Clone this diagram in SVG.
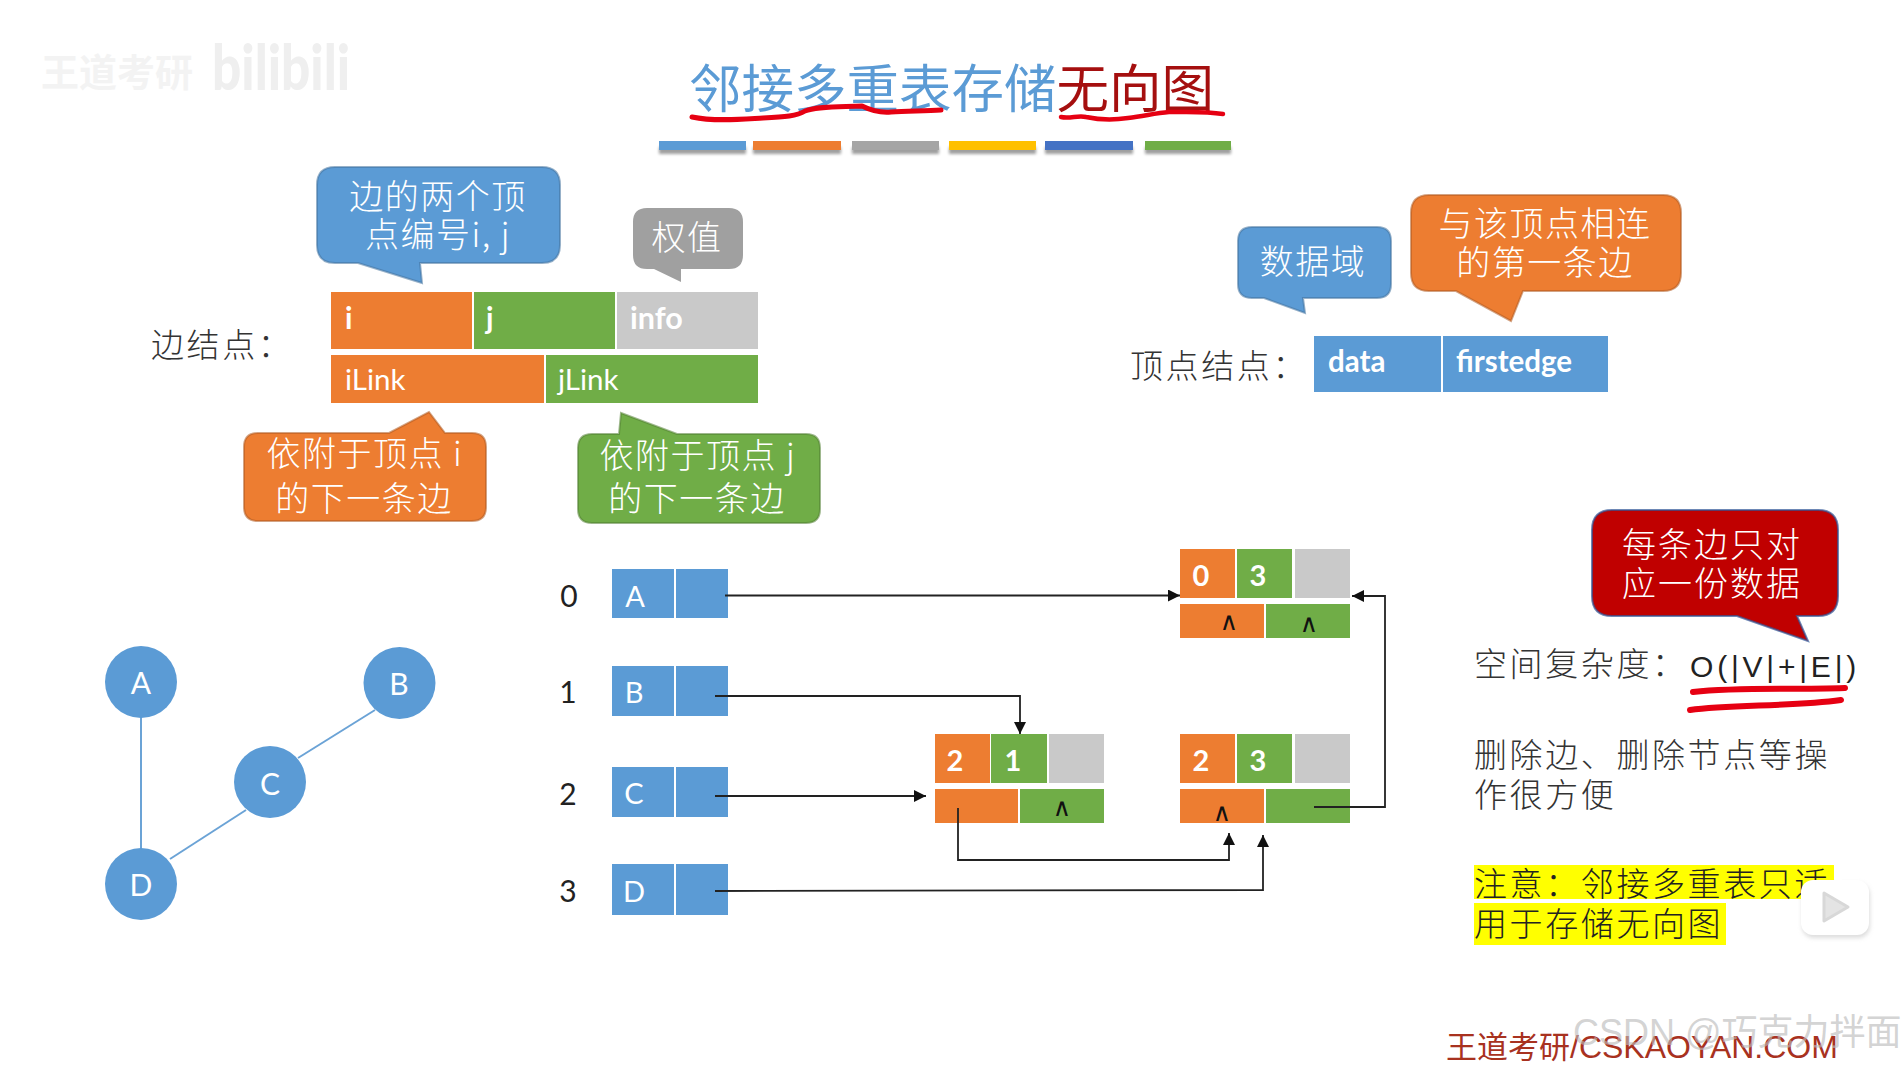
<svg xmlns="http://www.w3.org/2000/svg" width="1903" height="1065" viewBox="0 0 1903 1065">
<style>
text{font-family:"Noto Sans CJK SC","Noto Sans",sans-serif;font-weight:300}
.cw{fill:#fff;font-size:34px;text-anchor:middle;letter-spacing:1.500px}
.lb{fill:#333;font-size:33px;letter-spacing:2.6px}
.en{font-family:Lato,"Open Sans",sans-serif;fill:#fff;font-size:29.500px}
.b{font-weight:700}
.m{font-family:Lato,"Open Sans",sans-serif;font-weight:400;text-anchor:middle}
.big{fill:#fff;font-size:29px;font-weight:700}
.car{fill:#111;font-size:25px;font-family:"DejaVu Sans",sans-serif}
.idx{fill:#222;font-size:30px}
.blue{fill:#5b9bd5}.or{fill:#ed7d31}.gr{fill:#70ad47}.gy{fill:#c9c9c9}
.co{stroke-width:2;stroke-opacity:.55}
.cn{fill:none;stroke:#222;stroke-width:1.8}
.sc{fill:none;stroke:#e60012;stroke-linecap:round;stroke-linejoin:round}
</style>
<defs>
<marker id="ah" viewBox="0 0 10 10" refX="10" refY="5" markerWidth="12" markerHeight="12" markerUnits="userSpaceOnUse" orient="auto"><path d="M0 0L10 5L0 10Z" fill="#111"/></marker>
<filter id="sh" x="-10%" y="-50%" width="120%" height="220%"><feGaussianBlur stdDeviation="1.5"/></filter>
<filter id="soft" x="-20%" y="-20%" width="140%" height="140%"><feGaussianBlur stdDeviation="2"/></filter>
</defs>
<rect width="1903" height="1065" fill="#fff"/>

<g id="watermark-top">
<text x="41" y="86" font-size="38" style="fill:#f3f3f3;font-weight:700">王道考研</text>
<text x="212" y="90" font-size="62" style="fill:#efefef;font-family:Lato,sans-serif;font-weight:900" textLength="138" lengthAdjust="spacingAndGlyphs">bilibili</text>
</g>

<g id="title">
<text x="689" y="108" font-size="52.500" style="fill:#5b9bd5;font-weight:400">邻接多重表存储<tspan fill="#a50f0f">无向图</tspan></text>
<path class="sc" stroke-width="5" d="M692 117C715 122 745 119 763 118C785 117 797 116 805 111C818 106 840 107 862 106C872 111 880 113 891 112C908 111 925 111 941 110"/>
<path class="sc" stroke-width="4.500" d="M1061 117C1070 119 1078 115 1086 117C1100 120 1115 120 1128 118C1145 116 1155 113 1169 112C1187 112 1205 111 1223 114"/>
</g>

<g id="title-bars">
<g fill="#777" opacity=".7" filter="url(#sh)"><rect x="659" y="147" width="87" height="7"/><rect x="753" y="147" width="88" height="7"/><rect x="852" y="147" width="87" height="7"/><rect x="949" y="147" width="87" height="7"/><rect x="1045" y="147" width="88" height="7"/><rect x="1145" y="147" width="86" height="7"/></g>
<rect x="659" y="141" width="87" height="9" fill="#5b9bd5"/><rect x="753" y="141" width="88" height="9" fill="#ed7d31"/><rect x="852" y="141" width="87" height="9" fill="#a5a5a5"/><rect x="949" y="141" width="87" height="9" fill="#ffc000"/><rect x="1045" y="141" width="88" height="9" fill="#4472c4"/><rect x="1145" y="141" width="86" height="9" fill="#70ad47"/>
</g>

<g id="callout-endpoints">
<path class="blue co" stroke="#41719c" d="M335 167H542Q560 167 560 185V245Q560 263 542 263H420L422 283L358 263H335Q317 263 317 245V185Q317 167 335 167Z"/>
<text class="cw" x="438" y="209">边的两个顶</text><text class="cw" x="438" y="247">点编号i, j</text>
</g>
<g id="callout-weight">
<path fill="#a0a0a0" d="M647 208H729Q743 208 743 222V255Q743 269 729 269H681V282L654 269H647Q633 269 633 255V222Q633 208 647 208Z"/>
<text class="cw" x="687" y="250">权值</text>
</g>
<g id="edge-node-format">
<text class="lb" x="151" y="357">边结点：</text>
<rect class="or" x="331" y="292" width="141" height="57"/><rect class="gr" x="474" y="292" width="141" height="57"/><rect class="gy" x="617" y="292" width="141" height="57"/>
<rect class="or" x="331" y="355" width="213" height="48"/><rect class="gr" x="546" y="355" width="212" height="48"/>
<text class="en b" x="345" y="329">i</text><text class="en b" x="486" y="329">j</text><text class="en b" x="630" y="329" style="font-size:30.500px">info</text>
<text class="en" x="345" y="390" style="font-weight:400">iLink</text><text class="en" x="558" y="390" style="font-weight:400">jLink</text>
</g>
<g id="callout-ilink">
<path class="or co" stroke="#ae5a21" d="M258 433H389L429 412L445 433H472Q486 433 486 447V507Q486 521 472 521H258Q244 521 244 507V447Q244 433 258 433Z"/>
<text class="cw" x="365" y="466">依附于顶点 i</text><text class="cw" x="364" y="511">的下一条边</text>
</g>
<g id="callout-jlink">
<path class="gr co" stroke="#507e32" d="M592 434H619L621 413L677 434H806Q820 434 820 448V509Q820 523 806 523H592Q578 523 578 509V448Q578 434 592 434Z"/>
<text class="cw" x="698" y="468">依附于顶点 j</text><text class="cw" x="697" y="511">的下一条边</text>
</g>

<g id="callout-data">
<path class="blue co" stroke="#41719c" d="M1252 227H1377Q1391 227 1391 241V284Q1391 298 1377 298H1303L1305 313L1264 298H1252Q1238 298 1238 284V241Q1238 227 1252 227Z"/>
<text class="cw" x="1313" y="274">数据域</text>
</g>
<g id="callout-firstedge">
<path class="or co" stroke="#ae5a21" d="M1429 195H1663Q1681 195 1681 213V273Q1681 291 1663 291H1523L1511 321L1456 291H1429Q1411 291 1411 273V213Q1411 195 1429 195Z"/>
<text class="cw" x="1545" y="236">与该顶点相连</text><text class="cw" x="1545" y="275">的第一条边</text>
</g>
<g id="vertex-node-format">
<text class="lb" x="1130" y="378">顶点结点：</text>
<rect class="blue" x="1314" y="336" width="127" height="56"/><rect class="blue" x="1443" y="336" width="165" height="56"/>
<text class="en b" x="1328" y="372">data</text><text class="en b" x="1456" y="372">firstedge</text>
</g>

<g id="lower" transform="translate(0,1)">
<g id="graph-edges" stroke="#6ba3d6" stroke-width="2">
<line x1="141" y1="681" x2="141" y2="883"/><line x1="375" y1="709" x2="298" y2="757"/><line x1="246" y1="809" x2="170" y2="858"/>
</g>
<g id="graph-A"><circle class="blue" cx="141" cy="681" r="36"/><text class="m" x="141" y="693" font-size="30" fill="#fff">A</text></g>
<g id="graph-B"><circle class="blue" cx="399.500" cy="682" r="36"/><text class="m" x="399" y="694" font-size="30" fill="#fff">B</text></g>
<g id="graph-C"><circle class="blue" cx="270" cy="781" r="36"/><text class="m" x="270" y="794" font-size="30" fill="#fff">C</text></g>
<g id="graph-D"><circle class="blue" cx="141" cy="883" r="36"/><text class="m" x="141" y="895" font-size="30" fill="#fff">D</text></g>

<g id="vertex-0"><text class="m idx" x="569" y="606">0</text><rect class="blue" x="612" y="568" width="62" height="49"/><rect class="blue" x="676" y="568" width="52" height="49"/><text class="m" x="635" y="606" font-size="29" fill="#fff">A</text></g>
<g id="vertex-1"><text class="m idx" x="568" y="702">1</text><rect class="blue" x="612" y="665" width="62" height="50"/><rect class="blue" x="676" y="665" width="52" height="50"/><text class="m" x="634" y="702" font-size="29" fill="#fff">B</text></g>
<g id="vertex-2"><text class="m idx" x="568" y="804">2</text><rect class="blue" x="612" y="766" width="62" height="50"/><rect class="blue" x="676" y="766" width="52" height="50"/><text class="m" x="634" y="803" font-size="29" fill="#fff">C</text></g>
<g id="vertex-3"><text class="m idx" x="568" y="901">3</text><rect class="blue" x="612" y="863" width="62" height="51"/><rect class="blue" x="676" y="863" width="52" height="51"/><text class="m" x="634" y="901" font-size="29" fill="#fff">D</text></g>

<g id="edge-0-3">
<rect class="or" x="1180" y="548" width="55" height="49"/><rect class="gr" x="1237" y="548" width="55" height="49"/><rect class="gy" x="1295" y="548" width="55" height="49"/>
<rect class="or" x="1180" y="603" width="84" height="34"/><rect class="gr" x="1266" y="603" width="84" height="34"/>
<text class="m big" x="1201" y="585">0</text><text class="m big" x="1258" y="585">3</text>
<text class="m car" x="1229" y="629">∧</text><text class="m car" x="1309" y="631">∧</text>
</g>
<g id="edge-2-1">
<rect class="or" x="935" y="733" width="55" height="49"/><rect class="gr" x="991" y="733" width="56" height="49"/><rect class="gy" x="1049" y="733" width="55" height="49"/>
<rect class="or" x="935" y="788" width="83" height="34"/><rect class="gr" x="1020" y="788" width="84" height="34"/>
<text class="m big" x="955" y="770">2</text><text class="m big" x="1013" y="770">1</text>
<text class="m car" x="1062" y="815">∧</text>
</g>
<g id="edge-2-3">
<rect class="or" x="1180" y="733" width="55" height="49"/><rect class="gr" x="1237" y="733" width="55" height="49"/><rect class="gy" x="1295" y="733" width="55" height="49"/>
<rect class="or" x="1180" y="788" width="84" height="34"/><rect class="gr" x="1266" y="788" width="84" height="34"/>
<text class="m big" x="1201" y="770">2</text><text class="m big" x="1258" y="770">3</text>
<text class="m car" x="1222" y="820">∧</text>
</g>

<g id="connectors">
<path class="cn" marker-end="url(#ah)" d="M725 594.500H1180"/>
<path class="cn" marker-end="url(#ah)" d="M715 695H1020V733"/>
<path class="cn" marker-end="url(#ah)" d="M715 795H926"/>
<path class="cn" marker-end="url(#ah)" d="M715 890L1263 889V834"/>
<path class="cn" marker-end="url(#ah)" d="M958 807V859H1229V832"/>
<path class="cn" marker-end="url(#ah)" d="M1314 806H1385V595H1352"/>
</g>
</g>

<g id="callout-note">
<path fill="#c00000" stroke="#2f5597" stroke-width="2" stroke-opacity=".7" d="M1612 510H1818Q1838 510 1838 530V596Q1838 616 1818 616H1797L1808 641L1737 616H1612Q1592 616 1592 596V530Q1592 510 1612 510Z"/>
<text class="cw" x="1712" y="557" style="letter-spacing:2px">每条边只对</text><text class="cw" x="1712" y="596" style="letter-spacing:2px">应一份数据</text>
</g>
<g id="notes">
<text class="lb" x="1474" y="676">空间复杂度：</text>
<text x="1690" y="677" font-size="30" style="font-family:'Liberation Sans',sans-serif;font-weight:400;fill:#222;letter-spacing:3.800px">O(|V|+|E|)</text>
<path class="sc" stroke-width="6" d="M1693 692C1740 687 1790 690 1845 688"/>
<path class="sc" stroke-width="6" d="M1690 710C1730 704 1790 707 1841 700"/>
<text class="lb" x="1474" y="767">删除边、删除节点等操</text>
<text class="lb" x="1474" y="807">作很方便</text>
<rect x="1474" y="865" width="360" height="34" fill="#ffff00"/><rect x="1474" y="903" width="252" height="42" fill="#ffff00"/>
<text class="lb" x="1474" y="896" style="fill:#222">注意：邻接多重表只适</text>
<text class="lb" x="1474" y="936" style="fill:#222">用于存储无向图</text>
</g>

<g id="watermark-play">
<rect x="1802" y="883" width="68" height="55" rx="12" fill="#bbb" opacity=".5" filter="url(#soft)"/>
<path d="M1838 880L1846 870" stroke="#fff" stroke-width="6" stroke-linecap="round"/>
<rect x="1801" y="880" width="68" height="55" rx="12" fill="#fff"/>
<path d="M1824 893L1848 907L1824 921Z" fill="#e4e4e4" stroke="#d8d8d8" stroke-width="3" stroke-linejoin="round"/>
</g>
<g id="footer">
<text x="1446" y="1058" font-size="31" style="fill:#a8321f;font-weight:400">王道考研<tspan style="font-family:'Liberation Sans',sans-serif" font-size="32">/CSKAOYAN.COM</tspan></text>
<text x="1573" y="1045" font-size="36" style="fill:#bbb;fill-opacity:.65;font-family:'Liberation Sans','Noto Sans CJK SC',sans-serif;font-weight:400">CSDN @巧克力拌面</text>
</g>
</svg>
